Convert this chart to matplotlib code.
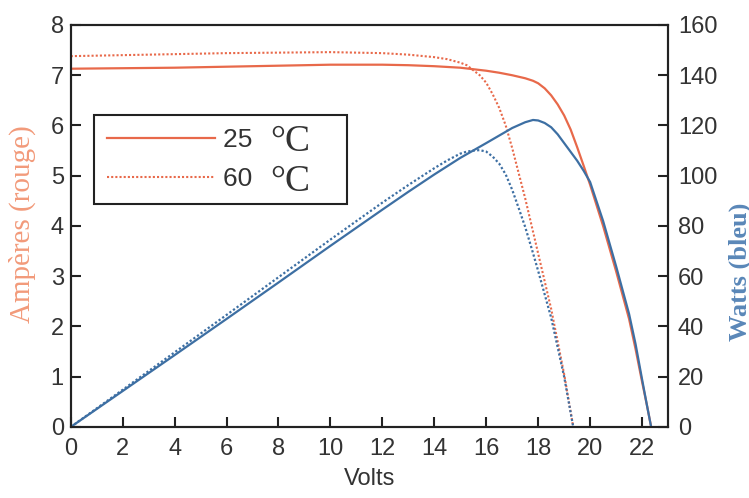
import numpy as np
import matplotlib
matplotlib.use('Agg')
from matplotlib import pyplot as plt

# volts / amps / watts at 25 C
v25 = [0, 2, 4, 6, 8, 10, 12, 13, 14, 15, 16, 16.5, 17, 17.5, 17.8, 18, 18.25, 18.5, 18.75, 19,
       19.25, 19.5, 19.75, 20, 20.5, 21, 21.5, 21.75, 22, 22.2, 22.35]
i25 = [7.13, 7.14, 7.15, 7.17, 7.19, 7.21, 7.21, 7.2, 7.18, 7.15, 7.09, 7.05, 7.0, 6.94, 6.89, 6.84,
       6.74, 6.6, 6.42, 6.2, 5.92, 5.57, 5.2, 4.82, 4.0, 3.1, 2.15, 1.55, 0.9, 0.4, 0]
p25 = [0, 14.3, 28.6, 43, 57.5, 72.1, 86.5, 93.6, 100.5, 107.1, 113, 116, 119, 121.3, 122.2, 122,
       121, 119.3, 116.5, 113, 109.5, 106, 102, 97.5, 82, 64, 45, 33, 19, 8, 0]

# volts / amps / watts at 60 C
v60 = [0, 2, 4, 6, 8, 10, 12, 13, 14, 14.5, 15, 15.25, 15.5, 15.75, 16, 16.25, 16.5, 16.75, 17,
       17.25, 17.5, 17.75, 18, 18.5, 19, 19.35]
i60 = [7.38, 7.40, 7.42, 7.44, 7.45, 7.46, 7.44, 7.41, 7.36, 7.32, 7.25, 7.2, 7.1, 7.0, 6.85, 6.62,
       6.35, 6.0, 5.55, 5.05, 4.55, 4.0, 3.45, 2.35, 1.05, 0]
p60 = [0, 14.8, 29.7, 44.6, 59.6, 74.6, 89.3, 96.3, 103, 106.1, 108.8, 109.6, 110, 110.2, 109.6,
       107.6, 104.8, 100.5, 94.4, 87.1, 79.6, 71, 62.1, 43.5, 20, 0]

red = '#e8694a'
blue = '#3d6fa3'
dark = '#222222'
sans = 'Liberation Sans'
serif = 'Liberation Serif'

plt.rcParams['font.family'] = sans

fig = plt.figure(figsize=(7.49, 4.98), dpi=100)
ax = fig.add_axes([0.0944, 0.1426, 0.7975, 0.8072])
ax2 = ax.twinx()

l25, = ax.plot(v25, i25, color=red, lw=1.6)
l60, = ax.plot(v60, i60, color=red, lw=1.5, ls=(0, (1, 1)))
ax2.plot(v25, p25, color=blue, lw=1.6)
ax2.plot(v60, p60, color=blue, lw=1.6, ls=(0, (1, 1)))

ax.set_xlim(0, 23)
ax.set_ylim(0, 8)
ax2.set_ylim(0, 160)
ax.set_xticks(np.arange(0, 23, 2))
ax.set_yticks(np.arange(0, 9, 1))
ax2.set_yticks(np.arange(0, 161, 20))

for a in (ax, ax2):
    for s in a.spines.values():
        s.set_color(dark)
        s.set_linewidth(1.5)
ax.tick_params(direction='in', length=7, width=1.5, color=dark, labelsize=17, labelcolor='#333333')
ax.tick_params(axis='x', pad=8)
ax.tick_params(axis='y', pad=5)
ax2.tick_params(direction='in', length=7, width=1.5, color=dark, labelsize=17, labelcolor='#333333', pad=7)

ax.set_xlabel('Volts', fontsize=17, color='#333333', labelpad=6)

fig.text(0.03, 0.55, 'Ampères (rouge)', rotation=90, ha='center', va='center',
         family=serif, fontsize=21, color='#f29a7a')
fig.text(0.988, 0.455, 'Watts (bleu)', rotation=90, ha='center', va='center',
         family=serif, fontsize=19, fontweight='bold', color='#5a87b8')

pad = ' ' * 11
leg = ax.legend([l25, l60], ['25' + pad, '60' + pad], loc='upper left',
                bbox_to_anchor=(0.039, 0.776), borderaxespad=0, borderpad=0.5,
                handlelength=4.1, handletextpad=0.3, labelspacing=0.56,
                fancybox=False, framealpha=1, edgecolor=dark,
                prop={'family': sans, 'size': 19})
leg.get_frame().set_linewidth(1.5)
for t in leg.get_texts():
    t.set_color('#333333')

# degree signs in serif next to the legend labels
ax.text(0.3676, 0.709, '°C', transform=ax.transAxes, ha='center', va='center',
        family=serif, fontsize=27, color='#333333', zorder=10)
ax.text(0.3676, 0.609, '°C', transform=ax.transAxes, ha='center', va='center',
        family=serif, fontsize=27, color='#333333', zorder=10)

fig.savefig('out.png', dpi=100)
